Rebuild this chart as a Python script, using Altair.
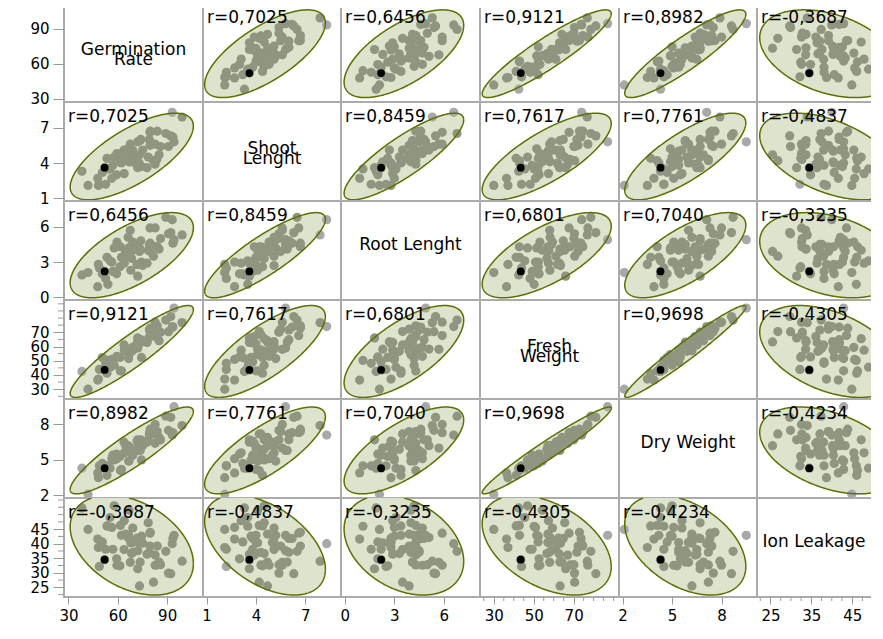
import numpy as np
import pandas as pd
import altair as alt

FONT = "DejaVu Sans"

diag_labels = ["Germination\nRate", "Shoot\nLenght", "Root Lenght", "Fresh\nWeight", "Dry Weight", "Ion Leakage"]

germination = [52.0, 41.9, 38.2, 48.2, 53.4, 47.8, 55.3, 48.8, 54.0, 62.2, 52.6, 57.8, 50.6, 61.6, 59.3,
               66.6, 57.0, 63.9, 61.3, 68.9, 56.4, 68.4, 66.8, 63.8, 74.4, 67.6, 73.0, 64.8, 72.1, 69.1,
               77.8, 66.3, 73.6, 78.5, 72.2, 83.7, 75.1, 79.6, 73.2, 79.6, 82.7, 74.0, 86.0, 79.7, 85.1,
               79.2, 90.8, 84.0, 81.7, 89.2, 93.5, 82.7, 93.1, 92.2, 99.1, 94.2, 69.1, 67.9, 59.5, 71.7]
shoot = [3.6, 2.1, 3.3, 2.1, 4.4, 2.7, 3.5, 2.2, 3.5, 4.0, 2.2, 4.5, 3.2, 4.2, 3.0,
         5.2, 3.8, 3.1, 4.4, 5.0, 2.7, 4.5, 4.1, 5.1, 3.7, 5.6, 4.0, 4.7, 3.6, 5.1,
         3.6, 5.1, 5.9, 4.5, 5.8, 4.3, 5.1, 6.6, 4.7, 5.5, 3.9, 6.0, 5.4, 6.7, 4.7,
         6.0, 5.4, 6.7, 4.2, 6.5, 6.2, 5.6, 8.3, 6.3, 7.9, 5.8, 4.3, 4.1, 4.8, 3.8]
root = [2.2, 2.1, 1.9, 2.8, 3.4, 0.9, 3.1, 2.5, 1.1, 3.4, 1.6, 4.2, 2.0, 4.3, 2.0,
        4.2, 2.2, 2.9, 2.6, 4.3, 3.0, 3.3, 4.0, 3.5, 3.0, 5.7, 2.8, 3.9, 1.8, 4.7,
        2.9, 5.1, 4.1, 4.0, 4.5, 4.3, 2.7, 5.9, 3.9, 3.9, 4.3, 4.8, 5.0, 4.6, 4.1,
        4.5, 5.4, 4.3, 3.5, 6.8, 4.6, 5.9, 6.6, 5.5, 5.3, 4.9, 4.0, 2.3, 4.7, 2.8]
fresh = [43.5, 30.0, 42.5, 37.1, 41.2, 36.4, 45.5, 43.9, 50.2, 42.9, 48.2, 46.9, 52.2, 42.8, 52.7,
         51.5, 49.2, 57.4, 52.3, 57.1, 50.9, 56.6, 54.3, 61.1, 52.3, 58.0, 61.9, 57.1, 66.0, 59.4,
         62.9, 58.2, 63.1, 65.5, 58.9, 68.2, 63.4, 67.7, 63.2, 72.2, 67.0, 64.8, 70.1, 72.9, 64.1,
         71.6, 70.4, 74.6, 70.5, 78.6, 73.7, 77.1, 74.0, 81.1, 76.8, 87.0, 57.6, 58.1, 53.1, 62.4]
dry = [4.3, 2.1, 4.3, 3.5, 3.7, 3.9, 4.3, 4.5, 4.5, 4.2, 4.5, 5.0, 4.7, 4.1, 5.5,
       4.9, 5.4, 5.6, 5.3, 5.4, 5.1, 5.9, 4.9, 6.5, 5.0, 6.0, 6.0, 6.2, 6.7, 5.6,
       6.5, 6.2, 5.8, 6.7, 5.8, 7.2, 6.2, 7.3, 6.2, 7.4, 6.4, 6.7, 6.7, 7.6, 6.9,
       7.2, 7.5, 7.4, 7.2, 8.7, 7.3, 8.0, 7.1, 8.6, 7.9, 9.5, 5.4, 6.0, 5.1, 6.6]
ion = [34.5, 44.9, 52.3, 38.7, 46.1, 41.6, 49.0, 32.2, 46.0, 42.9, 38.1, 53.0, 40.6, 46.3, 34.8,
       42.9, 38.1, 47.9, 32.4, 40.4, 45.6, 36.6, 51.5, 38.0, 42.6, 33.6, 40.5, 43.3, 31.4, 45.4,
       36.4, 42.1, 33.7, 47.2, 37.6, 32.7, 40.2, 43.6, 25.5, 39.2, 36.1, 41.8, 32.8, 43.9, 33.7,
       37.1, 29.9, 39.2, 26.8, 37.4, 41.8, 32.6, 40.0, 29.7, 34.0, 42.9, 37.0, 40.3, 32.6, 41.9]
highlight_index = 0

series = [germination, shoot, root, fresh, dry, ion]

corr = [
    [1.0, 0.7025, 0.6456, 0.9121, 0.8982, -0.3687],
    [0.7025, 1.0, 0.8459, 0.7617, 0.7761, -0.4837],
    [0.6456, 0.8459, 1.0, 0.6801, 0.7040, -0.3235],
    [0.9121, 0.7617, 0.6801, 1.0, 0.9698, -0.4305],
    [0.8982, 0.7761, 0.7040, 0.9698, 1.0, -0.4234],
    [-0.3687, -0.4837, -0.3235, -0.4305, -0.4234, 1.0],
]
ell_mean = [68.5, 4.55, 3.58, 56.5, 5.8, 39.5]
ell_sd = [15.3, 1.5, 1.48, 13.2, 1.5, 7.0]

# y domains (rows) and x domains (columns); last column is cut by the window edge
y_domains = [[27.3, 111.8], [0.78, 9.17], [-0.23, 8.19], [23.1, 92.7], [1.78, 10.15], [21.7, 55.7]]
x_domains = [[27.3, 111.8], [0.78, 9.17], [-0.23, 8.19], [23.1, 92.7], [1.78, 10.15], [21.7, 49.6]]

x_major = [[30, 60, 90], [1, 4, 7], [0, 3, 6], [30, 50, 70], [2, 5, 8], [25, 35, 45]]
x_minor = [[], [], [], [25, 35, 40, 45, 55, 60, 65, 75, 80, 85, 90], [],
           [22.5, 27.5, 30, 32.5, 37.5, 40, 42.5, 47.5]]
y_major = [[30, 60, 90], [1, 4, 7], [0, 3, 6], [30, 40, 50, 60, 70], [2, 5, 8], [25, 30, 35, 40, 45]]
y_minor = [[], [], [], [25, 35, 45, 55, 65, 75, 80, 85, 90], [],
           [22.5, 27.5, 32.5, 37.5, 42.5, 47.5, 50, 52.5, 55]]

col_widths = [139, 138, 139, 139, 138, 114]
row_height = 99

POINT_GRAY = "#a8a8a8"
POINT_IN = "#8f9581"
ELL_FILL = "#dde3cd"
ELL_STROKE = "#5b7000"
TICK = "#9a9a9a"
BORDER = "#ababab"
CHI2 = 5.991


def ellipse_fill_df(i, j):
    mx, my = ell_mean[j], ell_mean[i]
    sx, sy = ell_sd[j], ell_sd[i]
    r = corr[i][j]
    c = np.sqrt(CHI2)
    t = np.linspace(np.pi, 0, 301)
    u = np.cos(t)
    x = mx + c * sx * u
    yc = my + c * sy * r * u
    half = c * sy * np.sqrt(1 - r * r) * np.sqrt(np.clip(1 - u * u, 0, None))
    (x0, x1), (y0, y1) = x_domains[j], y_domains[i]
    return pd.DataFrame({"x": np.clip(x, x0, x1),
                         "ylo": np.clip(yc - half, y0, y1),
                         "yhi": np.clip(yc + half, y0, y1)})


def lb_clip(xa, ya, xb, yb, xmin, xmax, ymin, ymax):
    dx, dy = xb - xa, yb - ya
    u0, u1 = 0.0, 1.0
    for pk, qk in ((-dx, xa - xmin), (dx, xmax - xa), (-dy, ya - ymin), (dy, ymax - ya)):
        if pk == 0:
            if qk < 0:
                return None
        else:
            tt = qk / pk
            if pk < 0:
                if tt > u1:
                    return None
                u0 = max(u0, tt)
            else:
                if tt < u0:
                    return None
                u1 = min(u1, tt)
    return xa + u0 * dx, ya + u0 * dy, xa + u1 * dx, ya + u1 * dy, u0 > 0, u1 < 1


def ellipse_line_df(i, j):
    mx, my = ell_mean[j], ell_mean[i]
    sx, sy = ell_sd[j], ell_sd[i]
    r = corr[i][j]
    c = np.sqrt(CHI2)
    t = np.linspace(0, 2 * np.pi, 361)
    xs = mx + c * sx * np.cos(t)
    ys = my + c * sy * (r * np.cos(t) + np.sqrt(1 - r * r) * np.sin(t))
    (x0, x1), (y0, y1) = x_domains[j], y_domains[i]
    runs, cur = [], []
    for k in range(len(t) - 1):
        res = lb_clip(xs[k], ys[k], xs[k + 1], ys[k + 1], x0, x1, y0, y1)
        if res is None:
            if cur:
                runs.append(cur)
                cur = []
            continue
        ax, ay, bx, by, sclip, eclip = res
        if not cur or sclip:
            if cur:
                runs.append(cur)
            cur = [(ax, ay)]
        cur.append((bx, by))
        if eclip:
            runs.append(cur)
            cur = []
    if cur:
        runs.append(cur)
    rows = []
    for s, run in enumerate(runs):
        for k, (px, py) in enumerate(run):
            rows.append((px, py, s, k))
    return pd.DataFrame(rows, columns=["x", "y", "seg", "k"])


def inside(i, j, xv, yv):
    r = corr[i][j]
    zx = (np.asarray(xv) - ell_mean[j]) / ell_sd[j]
    zy = (np.asarray(yv) - ell_mean[i]) / ell_sd[i]
    d2 = (zx * zx - 2 * r * zx * zy + zy * zy) / (1 - r * r)
    return d2 <= CHI2


def make_cell(i, j):
    w = col_widths[j]
    h = row_height
    xs = alt.Scale(domain=x_domains[j], nice=False, zero=False)
    ys = alt.Scale(domain=y_domains[i], nice=False, zero=False)
    if i == 5:
        xaxis = alt.Axis(values=x_major[j], tickSize=7, tickColor=TICK, tickWidth=1,
                         labelFont=FONT, labelFontSize=15, labelColor="black", labelPadding=4,
                         domain=False, grid=False, labelFlush=False, labelOverlap=False, title=None)
    else:
        xaxis = None
    if j == 0:
        yaxis = alt.Axis(values=y_major[i], tickSize=11, tickColor=TICK, tickWidth=1,
                         labelFont=FONT, labelFontSize=15, labelColor="black", labelPadding=4,
                         domain=False, grid=False, labelFlush=False, labelOverlap=False, title=None,
                         minExtent=55, maxExtent=55)
    else:
        yaxis = None

    def X(field):
        return alt.X(field, scale=xs, axis=xaxis, title=None)

    def Y(field):
        return alt.Y(field, scale=ys, axis=yaxis, title=None)

    xv = np.asarray(series[j], dtype=float)
    yv = np.asarray(series[i], dtype=float)
    (x0, x1), (y0, y1) = x_domains[j], y_domains[i]
    keep = (xv >= x0) & (xv <= x1) & (yv >= y0) & (yv <= y1)

    layers = []
    if i != j:
        layers.append(
            alt.Chart(ellipse_fill_df(i, j)).mark_area(fill=ELL_FILL, clip=True, opacity=1)
            .encode(x=X("x:Q"), y=Y("ylo:Q"), y2="yhi:Q")
        )
        ins = inside(i, j, xv, yv)
        pts = pd.DataFrame({"x": xv[keep], "y": yv[keep],
                            "col": np.where(ins, POINT_IN, POINT_GRAY)[keep]})
        layers.append(
            alt.Chart(pts).mark_circle(size=85, opacity=1, clip=True)
            .encode(x=X("x:Q"), y=Y("y:Q"), color=alt.Color("col:N", scale=None))
        )
        hl = pd.DataFrame({"x": [xv[highlight_index]], "y": [yv[highlight_index]]})
        layers.append(
            alt.Chart(hl).mark_circle(size=60, color="black", opacity=1, clip=True)
            .encode(x=X("x:Q"), y=Y("y:Q"))
        )
        layers.append(
            alt.Chart(ellipse_line_df(i, j)).mark_line(color=ELL_STROKE, strokeWidth=1.5, clip=True)
            .encode(x=X("x:Q"), y=Y("y:Q"), detail="seg:N", order="k:Q")
        )
        rtxt = "r=" + ("%.4f" % corr[i][j]).replace(".", ",")
        layers.append(
            alt.Chart(pd.DataFrame({"t": [rtxt]})).mark_text(align="left", baseline="top", font=FONT,
                                                             fontSize=17, color="black", clip=True)
            .encode(x=alt.value(4), y=alt.value(7), text="t:N")
        )
    else:
        pts = pd.DataFrame({"x": xv[keep], "y": yv[keep]})
        layers.append(
            alt.Chart(pts).mark_circle(size=85, opacity=0, clip=True)
            .encode(x=X("x:Q"), y=Y("y:Q"))
        )
        lab = diag_labels[i]
        multi = "\n" in lab
        layers.append(
            alt.Chart(pd.DataFrame({"t": [lab]})).mark_text(align="center", baseline="middle", font=FONT,
                                                            fontSize=17, color="black", lineBreak="\n",
                                                            lineHeight=10, dy=(-3 if multi else -6),
                                                            clip=True)
            .encode(x=alt.value(w / 2), y=alt.value(h / 2), text="t:N")
        )
    if i == 5 and x_minor[j]:
        layers.append(
            alt.Chart(pd.DataFrame({"x": x_minor[j]})).mark_rule(color=TICK, strokeWidth=1)
            .encode(x=X("x:Q"), y=alt.value(h), y2=alt.value(h + 4))
        )
    if j == 0 and y_minor[i]:
        layers.append(
            alt.Chart(pd.DataFrame({"y": y_minor[i]})).mark_rule(color=TICK, strokeWidth=1)
            .encode(y=Y("y:Q"), x=alt.value(0), x2=alt.value(-6))
        )
    if j == 5:
        layers.append(
            alt.Chart(pd.DataFrame({"e": [0]})).mark_rule(color=BORDER, strokeWidth=2)
            .encode(x=alt.value(0), x2=alt.value(w), y=alt.value(0))
        )
        layers.append(
            alt.Chart(pd.DataFrame({"e": [0]})).mark_rule(color=BORDER, strokeWidth=2)
            .encode(x=alt.value(0), x2=alt.value(w), y=alt.value(h))
        )
        return alt.layer(*layers).properties(width=w, height=h,
                                             view=alt.ViewBackground(stroke="transparent"))
    return alt.layer(*layers).properties(width=w, height=h)


cells = [make_cell(i, j) for i in range(6) for j in range(6)]

chart = (
    alt.concat(*cells, columns=6, spacing=0, bounds="flush", align="each")
    .properties(padding={"top": -7, "left": 0, "right": 0, "bottom": 0}, background="white")
    .configure_view(stroke=BORDER, strokeWidth=2)
)

chart.save("out.html", embed_options={"renderer": "svg", "actions": False})
